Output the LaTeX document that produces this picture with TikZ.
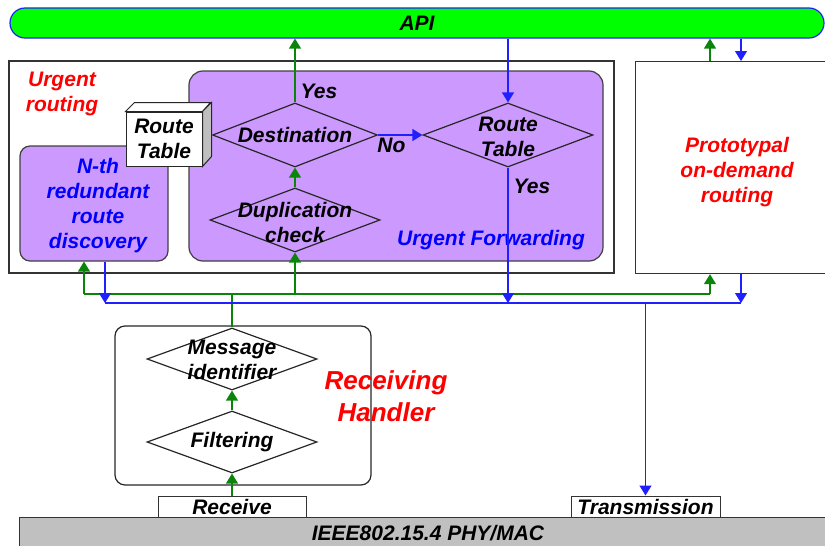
\documentclass[tikz,border=0pt]{standalone}
\usepackage{fontspec}
\setmainfont{Liberation Sans}
\usetikzlibrary{shapes.geometric, arrows.meta}
\definecolor{apigreen}{HTML}{00FF00}
\definecolor{boxpurple}{HTML}{CC99FF}
\definecolor{lnblue}{HTML}{2020FF}
\definecolor{lngreen}{HTML}{0A850A}
\definecolor{txtred}{HTML}{FF0000}
\definecolor{txtblue}{HTML}{0000FF}
\definecolor{phygray}{HTML}{C0C0C0}

\begin{document}
\begin{tikzpicture}[x=1pt, y=-1pt,
    txt/.style={font=\bfseries\itshape\fontsize{21}{25}\selectfont, align=center, inner sep=0pt},
    plainbox/.style={rectangle, draw=black!80, line width=1.2pt, fill=white},
    purplebox/.style={rectangle, rounded corners=14pt, draw=black!75, line width=1.2pt, fill=boxpurple},
    decision/.style={diamond, draw=black!85, line width=1.2pt, inner sep=0pt},
    gline/.style={draw=lngreen, line width=1.3pt},
    bline/.style={draw=lnblue, line width=1.3pt},
    garrow/.style={gline, -{Triangle[width=12pt,length=10pt]}},
    barrow/.style={bline, -{Triangle[width=12pt,length=10pt]}}]
  \useasboundingbox (0,0) rectangle (825,546);

  % top and bottom layers
  \node[rectangle, rounded corners=15pt, draw=lnblue, line width=1.2pt, fill=apigreen,
        minimum width=814, minimum height=30, txt] (api) at (417,23) {API};
  \node[rectangle, draw=black!80, line width=1.2pt, fill=phygray,
        minimum width=812, minimum height=34, anchor=north west, inner sep=0pt] (phy) at (19,517) {};
  \node[txt] (phytxt) at (428,533) {IEEE802.15.4 PHY/MAC};

  % urgent routing
  \node[plainbox, minimum width=605, minimum height=212] (urgent) at (311.5,167) {};
  \node[txt, text=txtred] (urgtxt) at (62,94) {Urgent\\routing};
  \node[purplebox, rounded corners=10pt, minimum width=148, minimum height=115] (nth) at (94,203.5) {};
  \node[txt, text=txtblue] (nthtxt) at (98,206) {N-th\\redundant\\route\\discovery};
  \node[purplebox, minimum width=414, minimum height=190] (fwd) at (396,166) {};
  \node[txt, text=txtblue] (fwdtxt) at (491,240) {Urgent Forwarding};

  % route table box
  \node[rectangle, draw=black!85, line width=1pt, fill=white, minimum width=76, minimum height=54,
        txt] (rt) at (164,139) {Route\\Table};
  \draw[black!85, line width=1pt, fill=white] (rt.north west) -- ++(9,-9) -- ++(76,0) -- (rt.north east) -- cycle;
  \draw[black!85, line width=1pt, fill=black!25] (rt.north east) -- ++(9,-9) -- ++(0,54) -- (rt.south east) -- cycle;

  \node[decision, minimum width=165, minimum height=64,
        label={[txt]center:Destination}] (dest) at (295,135) {};
  \node[decision, minimum width=170, minimum height=64,
        label={[txt, yshift=-2pt]center:{Duplication\\check}}] (dup) at (295,220) {};
  \node[decision, minimum width=170, minimum height=64,
        label={[txt, yshift=-2pt]center:{Route\\Table}}] (rtd) at (508,135) {};

  % prototypal routing
  \node[plainbox, minimum width=200, minimum height=212, anchor=north west] (proto) at (635,61) {};
  \node[txt, text=txtred] (prototxt) at (737,172) {Prototypal\\on-demand\\routing};

  % receiving handler
  \node[rectangle, rounded corners=10pt, draw=black!85, line width=1.2pt,
        minimum width=256, minimum height=159] (recvh) at (243,405.5) {};
  \node[txt, text=txtred, font=\bfseries\itshape\fontsize{26}{32}\selectfont] (recvtxt) at (386,396) {Receiving\\Handler};
  \node[decision, minimum width=170, minimum height=62,
        label={[txt, yshift=-1pt]center:{Message\\identifier}}] (msg) at (232,359) {};
  \node[decision, minimum width=170, minimum height=62,
        label={[txt]center:Filtering}] (filt) at (232,442) {};
  \node[plainbox, line width=1pt, minimum width=148, minimum height=21, txt] (recv) at (232,506.5) {Receive};
  \node[plainbox, line width=1pt, minimum width=149, minimum height=21, txt] (trans) at (645.5,506.5) {Transmission};

  % buses
  \coordinate (gl) at (84,294);
  \coordinate (gr) at (710,294);
  \coordinate (bl) at (105,303);
  \coordinate (br) at (741,303);

  \draw[garrow] (dest.north) -- node[txt, pos=0.17, right=5pt] (yes1) {Yes} (dest.north |- api.south);
  \draw[barrow] (api.south -| rtd.north) -- (rtd.north);
  \draw[barrow] (dest.east) -- node[txt, pos=0.3, below=2pt] (no) {No} (rtd.west);
  \draw[garrow] (dup.north) -- (dest.south);
  \draw[garrow] (gr |- proto.north) -- (gr |- api.south);
  \draw[barrow] (br |- api.south) -- (br |- proto.north);

  \draw[gline] (gl) -- (gr);
  \draw[garrow] (gl) -- (gl |- nth.south);
  \draw[garrow] (dup.south |- gl) -- (dup.south);
  \draw[garrow] (gr) -- (gr |- proto.south);
  \draw[gline] (msg.north) -- (msg.north |- gl);

  \draw[bline] (bl) -- (br);
  \draw[barrow] (bl |- nth.south) -- (bl);
  \draw[barrow] (rtd.south) -- node[txt, pos=0.14, right=5pt] (yes2) {Yes} (rtd.south |- bl);
  \draw[barrow] (br |- proto.south) -- (br);
  \draw[barrow] (trans.north |- bl) -- (trans.north);

  \draw[garrow] (filt.north) -- (msg.south);
  \draw[garrow] (recv.north) -- (filt.south);
\end{tikzpicture}
\end{document}
